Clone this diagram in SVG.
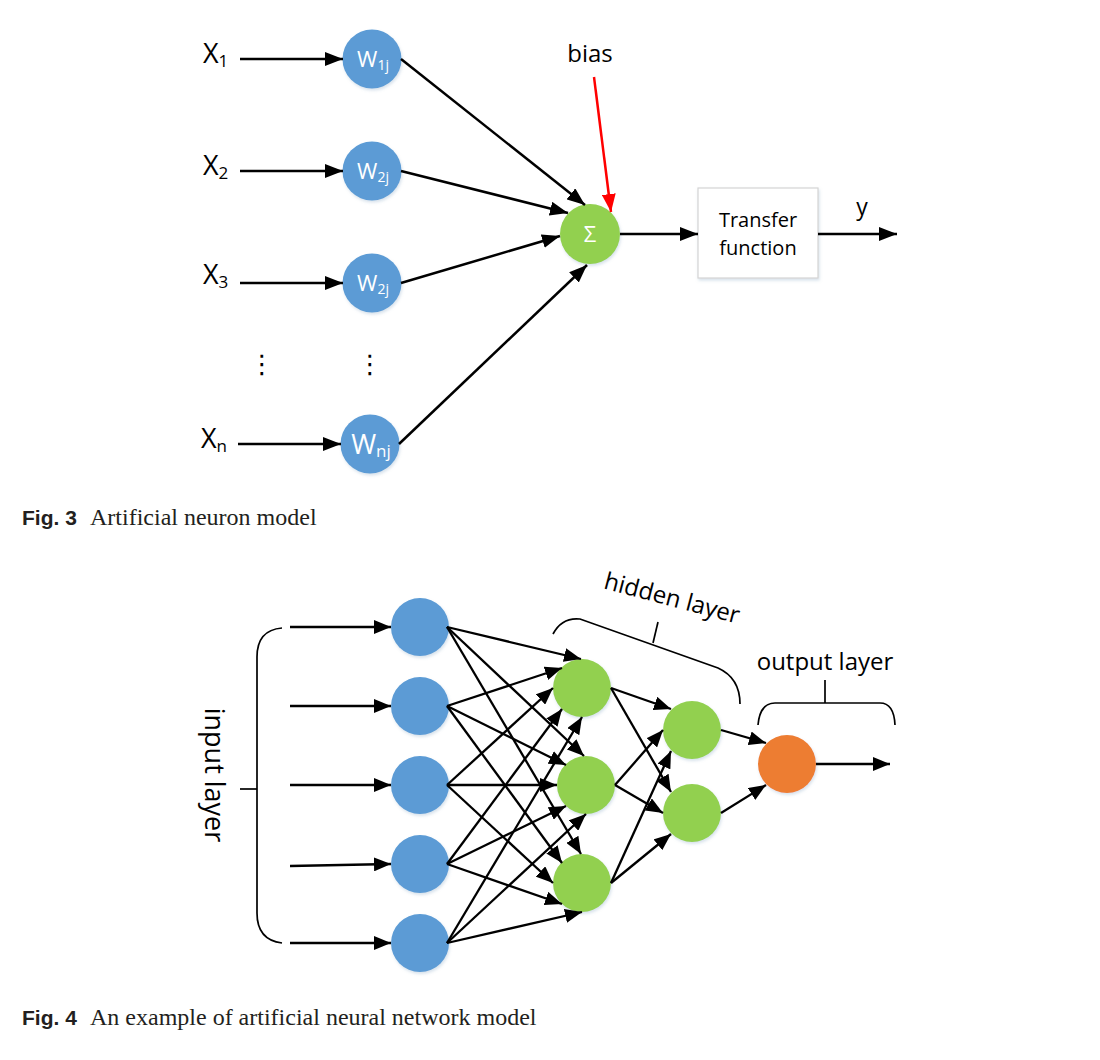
<svg xmlns="http://www.w3.org/2000/svg" width="1100" height="1060" viewBox="0 0 1100 1060">
<defs>
<style>
.lbl{font-family:"Open Sans","Liberation Sans",sans-serif;fill:#000}
.wt{font-family:"Open Sans","Liberation Sans",sans-serif;fill:#fff}
.ln3{stroke:#000;stroke-width:2.5;fill:none;marker-end:url(#ah3)}
.ln4{stroke:#000;stroke-width:2.3;fill:none;marker-end:url(#ah4)}
.br{stroke:#000;stroke-width:1.7;fill:none}
.blue{fill:#5B9BD5}
.green{fill:#92D050}
.orange{fill:#ED7D31}
.cap{font-family:"Liberation Sans",Arial,sans-serif;font-weight:bold;font-size:21px;fill:#231f20}
.capt{font-family:"Liberation Serif","Times New Roman",serif;font-size:24px;fill:#231f20}
</style>
<marker id="ah3" markerUnits="userSpaceOnUse" markerWidth="18" markerHeight="14" refX="18" refY="7" orient="auto">
<path d="M0,0 L18,7 L0,14 z" fill="#000"/>
</marker>
<marker id="ah4" markerUnits="userSpaceOnUse" markerWidth="17" markerHeight="14" refX="17" refY="7" orient="auto">
<path d="M0,0 L17,7 L0,14 z" fill="#000"/>
</marker>
<marker id="ahr" markerUnits="userSpaceOnUse" markerWidth="18" markerHeight="14" refX="18" refY="7" orient="auto">
<path d="M0,0 L18,7 L0,14 z" fill="#FF0000"/>
</marker>
<filter id="sh" x="-30%" y="-30%" width="160%" height="160%">
<feDropShadow dx="1" dy="2" stdDeviation="1.5" flood-color="#7f9fbf" flood-opacity="0.3"/>
</filter>
</defs>
<rect width="1100" height="1060" fill="#fff"/>

<!-- ========== Fig. 3 ========== -->
<g id="fig3-nodes">
<g id="x1"><text class="lbl" x="203" y="63" font-size="27">X<tspan font-size="17" dy="4">1</tspan></text></g>
<g id="x2"><text class="lbl" x="203" y="175" font-size="27">X<tspan font-size="17" dy="4">2</tspan></text></g>
<g id="x3"><text class="lbl" x="203" y="284" font-size="27">X<tspan font-size="17" dy="4">3</tspan></text></g>
<g id="xn"><text class="lbl" x="201" y="448" font-size="27">X<tspan font-size="17" dy="4">n</tspan></text></g>
<g id="dots"><text x="262" y="373" font-family="DejaVu Sans,sans-serif" font-size="26" text-anchor="middle" fill="#000">⋮</text><text x="370" y="373" font-family="DejaVu Sans,sans-serif" font-size="26" text-anchor="middle" fill="#000">⋮</text></g>
<g id="w1"><circle class="blue" cx="372" cy="59" r="29.5" filter="url(#sh)"/><text class="wt" x="373" y="67" font-size="22" text-anchor="middle">W<tspan font-size="14" dy="3">1j</tspan></text></g>
<g id="w2"><circle class="blue" cx="372" cy="171" r="29.5" filter="url(#sh)"/><text class="wt" x="373" y="179" font-size="22" text-anchor="middle">W<tspan font-size="14" dy="3">2j</tspan></text></g>
<g id="w3"><circle class="blue" cx="372" cy="283" r="29.5" filter="url(#sh)"/><text class="wt" x="373" y="291" font-size="22" text-anchor="middle">W<tspan font-size="14" dy="3">2j</tspan></text></g>
<g id="wn"><circle class="blue" cx="370" cy="444" r="29.5" filter="url(#sh)"/><text class="wt" x="371" y="454" font-size="27" text-anchor="middle">W<tspan font-size="17" dy="3">nj</tspan></text></g>
<g id="sum"><circle class="green" cx="590" cy="234" r="30" filter="url(#sh)"/><text class="wt" x="590" y="242" font-size="22" text-anchor="middle">Σ</text></g>
<g id="bias"><text class="lbl" x="590" y="62" font-size="24" text-anchor="middle">bias</text></g>
<g id="transfer"><rect x="698" y="188" width="120" height="90" fill="#fff" stroke="#d4d4d4" stroke-width="1.2" filter="url(#sh)"/><text class="lbl" x="758" y="227" font-size="20" text-anchor="middle">Transfer</text><text class="lbl" x="758" y="255" font-size="20" text-anchor="middle">function</text></g>
<g id="y"><text class="lbl" x="862" y="215" font-size="23" text-anchor="middle">y</text></g>
</g>
<g id="fig3-connectors">
<line class="ln3" x1="240" y1="59" x2="343" y2="59"/>
<line class="ln3" x1="240" y1="171" x2="343" y2="171"/>
<line class="ln3" x1="240" y1="283" x2="343" y2="283"/>
<line class="ln3" x1="238" y1="444" x2="341" y2="444"/>
<line class="ln3" x1="401" y1="59" x2="585" y2="205"/>
<line class="ln3" x1="401" y1="171" x2="568" y2="213"/>
<line class="ln3" x1="401" y1="283" x2="560" y2="236"/>
<line class="ln3" x1="399" y1="444" x2="587" y2="265"/>
<line x1="594" y1="77" x2="611" y2="212" stroke="#FF0000" stroke-width="2.5" marker-end="url(#ahr)"/>
<line class="ln3" x1="620" y1="234" x2="698" y2="234"/>
<line class="ln3" x1="818" y1="234" x2="897" y2="234"/>
</g>

<g id="caption3"><text class="cap" x="22" y="525">Fig. 3</text><text class="capt" x="90" y="525">Artificial neuron model</text></g>

<!-- ========== Fig. 4 ========== -->
<g id="fig4-nodes">
<g id="i1"><circle class="blue" cx="420" cy="627" r="29" filter="url(#sh)"/></g>
<g id="i2"><circle class="blue" cx="420" cy="706" r="29" filter="url(#sh)"/></g>
<g id="i3"><circle class="blue" cx="420" cy="785" r="29" filter="url(#sh)"/></g>
<g id="i4"><circle class="blue" cx="420" cy="864" r="29" filter="url(#sh)"/></g>
<g id="i5"><circle class="blue" cx="420" cy="943" r="29" filter="url(#sh)"/></g>
<g id="h11"><circle class="green" cx="582" cy="688" r="29" filter="url(#sh)"/></g>
<g id="h12"><circle class="green" cx="586" cy="785" r="29" filter="url(#sh)"/></g>
<g id="h13"><circle class="green" cx="582" cy="883" r="29" filter="url(#sh)"/></g>
<g id="h21"><circle class="green" cx="692" cy="730" r="29" filter="url(#sh)"/></g>
<g id="h22"><circle class="green" cx="692" cy="813" r="29" filter="url(#sh)"/></g>
<g id="out"><circle class="orange" cx="787" cy="764" r="29" filter="url(#sh)"/></g>
<g id="input-layer">
<path class="br" d="M282,628 Q257,630 257,657 L257,913 Q257,940 282,943"/>
<line class="br" x1="240" y1="789" x2="257" y2="789"/>
<text class="lbl" font-size="27" text-anchor="middle" transform="translate(205,775) rotate(90)">input layer</text>
</g>
<g id="hidden-layer">
<path class="br" d="M553,634 Q562,617 580,619 L718,668 Q740,678 740,704"/>
<line class="br" x1="653" y1="643" x2="658" y2="622"/>
<text class="lbl" font-size="24" text-anchor="middle" transform="translate(670,606) rotate(14.7)">hidden layer</text>
</g>
<g id="output-layer">
<path class="br" d="M758,725 Q760,703 775,703 L880,703 Q894,703 895,725"/>
<line class="br" x1="825" y1="703" x2="825" y2="680"/>
<text class="lbl" x="825" y="670" font-size="24" text-anchor="middle">output layer</text>
</g>
</g>
<g id="fig4-connectors">
<line class="ln4" x1="290" y1="627" x2="391" y2="627"/>
<line class="ln4" x1="290" y1="706" x2="391" y2="706"/>
<line class="ln4" x1="290" y1="785" x2="391" y2="785"/>
<line class="ln4" x1="290" y1="866" x2="391" y2="864"/>
<line class="ln4" x1="290" y1="943" x2="391" y2="943"/>
<line class="ln4" x1="447" y1="627" x2="581" y2="659"/>
<line class="ln4" x1="447" y1="627" x2="584" y2="756"/>
<line class="ln4" x1="447" y1="627" x2="581" y2="854"/>
<line class="ln4" x1="447" y1="706" x2="562" y2="668"/>
<line class="ln4" x1="447" y1="706" x2="566" y2="765"/>
<line class="ln4" x1="447" y1="706" x2="562" y2="863"/>
<line class="ln4" x1="447" y1="785" x2="553" y2="688"/>
<line class="ln4" x1="447" y1="785" x2="557" y2="785"/>
<line class="ln4" x1="447" y1="785" x2="553" y2="883"/>
<line class="ln4" x1="447" y1="864" x2="562" y2="709"/>
<line class="ln4" x1="447" y1="864" x2="566" y2="806"/>
<line class="ln4" x1="447" y1="864" x2="562" y2="904"/>
<line class="ln4" x1="447" y1="943" x2="582" y2="717"/>
<line class="ln4" x1="447" y1="943" x2="586" y2="814"/>
<line class="ln4" x1="447" y1="943" x2="582" y2="912"/>
<line class="ln4" x1="611" y1="688" x2="671" y2="709"/>
<line class="ln4" x1="611" y1="688" x2="671" y2="792"/>
<line class="ln4" x1="615" y1="785" x2="663" y2="730"/>
<line class="ln4" x1="615" y1="785" x2="663" y2="813"/>
<line class="ln4" x1="611" y1="883" x2="671" y2="751"/>
<line class="ln4" x1="611" y1="883" x2="671" y2="834"/>
<line class="ln4" x1="721" y1="730" x2="766" y2="743"/>
<line class="ln4" x1="721" y1="813" x2="766" y2="785"/>
<line class="ln4" x1="816" y1="764" x2="890" y2="764"/>
</g>

<g id="caption4"><text class="cap" x="22" y="1025">Fig. 4</text><text class="capt" x="90" y="1025">An example of artificial neural network model</text></g>
</svg>
